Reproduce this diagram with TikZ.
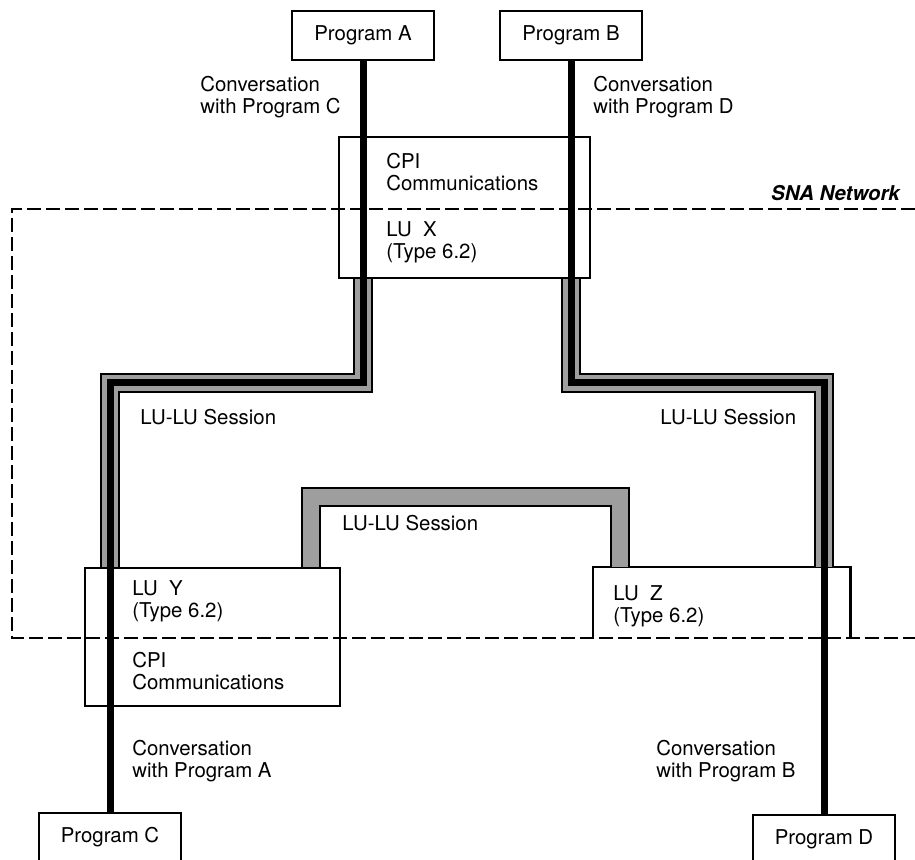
\documentclass[tikz,border=0pt]{standalone}
\usepackage{fontspec}
\setmainfont{TeX Gyre Heros}
\usetikzlibrary{calc}

\tikzset{
  box/.style={draw, line width=1.1pt, inner sep=0pt},
  prog/.style={box, minimum width=71pt, minimum height=24.5pt},
  txt/.style={align=left, anchor=west, inner sep=0pt},
  sessedge/.style={line width=10pt, line join=miter},
  sessfill/.style={line width=8.2pt, line join=miter, color=black!38},
  conv/.style={line width=3.5pt, line join=miter},
  snaline/.style={dash pattern=on 7pt off 2.5pt, line width=1pt},
}

\begin{document}
\begin{tikzpicture}[x=0.5pt,y=-0.5pt,font=\fontsize{10.2}{11}\selectfont]
\clip (0,0) rectangle (915,860);

% network boundary
\draw[snaline] (915,209) -| (12,638) -- (915,638);
\node[anchor=east,inner sep=0pt,font=\fontsize{10.2}{11}\selectfont\bfseries\itshape] (sna) at (900,193) {SNA Network};

% programs
\node[prog] (pa) at (363,35.5) {Program A};
\node[prog] (pb) at (571,35.5) {Program B};
\node[prog] (pc) at (110,837.5) {Program C};
\node[prog] (pd) at (824,839.5) {Program D};

% logical units
\node[box,minimum width=125.5pt,minimum height=70.5pt] (cpi) at (464.5,207.5) {};
\node[box,minimum width=127.5pt,minimum height=69pt] (luy) at (212.5,637) {};
\node[inner sep=0pt,minimum width=128.5pt,minimum height=35.5pt] (luz) at (721.5,602.5) {};
\draw[line width=1.1pt] (luz.south west) -- (luz.north west) -- (luz.north east) -- (luz.south east);

\node[txt] (cpix) at (386,172.5) {CPI\\Communications};
\node[txt] (lux) at (386,242.5) {LU~~X\\(Type 6.2)};
\node[txt] (luyt) at (132,601.5) {LU~~Y\\(Type 6.2)};
\node[txt] (cpiy) at (132,671.5) {CPI\\Communications};
\node[txt] (luzt) at (613,606.5) {LU~~Z\\(Type 6.2)};

% corners of the routes
\coordinate (kl) at (110,383);
\coordinate (kr) at (824,383);
\coordinate (ml) at (311,497);
\coordinate (mr) at (620,497);

% sessions
\foreach \st in {sessedge,sessfill}{
  \draw[\st] (pa |- cpi.south) -- (pa |- kl) -- (kl) -- (kl |- luy.north);
  \draw[\st] (pb |- cpi.south) -- (pb |- kr) -- (kr) -- (kr |- luz.north);
  \draw[\st] (ml |- luy.north) -- (ml) -- (mr) -- (mr |- luz.north);
}

% conversations
\draw[conv] (pa.south) -- (pa |- kl) -- (kl) -- (pc.north);
\draw[conv] (pb.south) -- (pb |- kr) -- (kr) -- (pd.north);

\node[txt] (convc) at (200,97.5) {Conversation\\with Program C};
\node[txt] (convd) at (593,97.5) {Conversation\\with Program D};
\node[txt] (conva) at (132,761.5) {Conversation\\with Program A};
\node[txt] (convb) at (656,761.5) {Conversation\\with Program B};

\node[txt] (sessl) at (140,417) {LU-LU Session};
\node[txt] (sessr) at (660,417) {LU-LU Session};
\node[txt] (sessm) at (342,523) {LU-LU Session};
\end{tikzpicture}
\end{document}
